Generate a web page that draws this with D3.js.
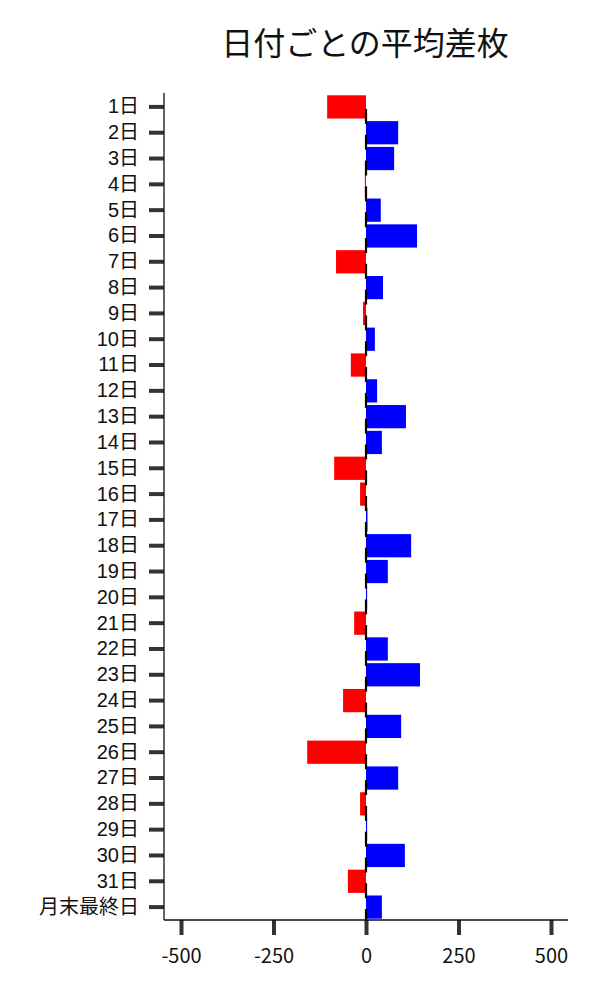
<!DOCTYPE html>
<html><head><meta charset="utf-8">
<script src="https://cdn.jsdelivr.net/npm/d3@7"></script>
<style>body{margin:0;background:#fff}svg{display:block}text{font-family:"Noto Sans CJK JP","Noto Sans",sans-serif}</style>
</head><body><svg id="c" width="600" height="1000"></svg>
<script>
const categories = ["1日","2日","3日","4日","5日","6日","7日","8日","9日","10日","11日","12日","13日","14日","15日","16日","17日","18日","19日","20日","21日","22日","23日","24日","25日","26日","27日","28日","29日","30日","31日","月末最終日"];
const values = [-105,87,76,-3,40,138,-81,46,-8,24,-41,30,108,43,-86,-16,4,122,59,3,-32,59,146,-62,95,-159,87,-16,3,105,-49,43];
const xTicks = [-500,-250,0,250,500];
const title = "日付ごとの平均差枚";

(function(){
const svg = d3.select("#c");
const mLeft = 164, mRight = 568, mTop = 93, mBottom = 920;
const x = d3.scaleLinear().domain([-500,500]).range([181,551]);
const y = d3.scaleBand().domain(categories).range([94,920]).paddingInner(0.1).paddingOuter(0.05);

svg.append("text").attr("x",365).attr("y",55).attr("text-anchor","middle")
  .attr("font-size",32).attr("fill","#111").text(title);

svg.selectAll("rect.bar").data(categories).enter().append("rect")
  .attr("x",(d,i)=>Math.min(x(0),x(values[i])))
  .attr("width",(d,i)=>Math.abs(x(values[i])-x(0)))
  .attr("y",d=>y(d)).attr("height",y.bandwidth())
  .attr("fill",(d,i)=>values[i]<0?"#ff0000":"#0000ff");

svg.selectAll("line.err").data(categories).enter().append("line")
  .attr("x1",x(0)).attr("x2",x(0))
  .attr("y1",d=>y(d)+y.bandwidth()/2+2).attr("y2",d=>y(d)+y.bandwidth()/2+17)
  .attr("stroke","#000").attr("stroke-width",2.2);

const yAxis = d3.axisLeft(y).tickSize(15).tickPadding(10);
const gy = svg.append("g").attr("transform",`translate(${mLeft},0)`).call(yAxis);
gy.select(".domain").remove();
gy.selectAll(".tick line").attr("stroke","#333").attr("stroke-width",4);
gy.selectAll(".tick text").attr("font-size",20).attr("fill","#111")
  .style("font-family",'"Liberation Sans","Noto Sans CJK JP",sans-serif');

const xAxis = d3.axisBottom(x).tickValues(xTicks).tickFormat(d=>String(d)).tickSize(15).tickPadding(14);
const gx = svg.append("g").attr("transform",`translate(0,${mBottom})`).call(xAxis);
gx.select(".domain").remove();
gx.selectAll(".tick line").attr("stroke","#333").attr("stroke-width",4);
gx.selectAll(".tick text").attr("font-size",20).attr("fill","#111");

svg.append("line").attr("x1",mLeft).attr("x2",mLeft).attr("y1",mTop).attr("y2",mBottom).attr("stroke","#111").attr("stroke-width",1.3);
svg.append("line").attr("x1",mLeft).attr("x2",mRight).attr("y1",mBottom).attr("y2",mBottom).attr("stroke","#111").attr("stroke-width",1.3);
})();
</script></body></html>
